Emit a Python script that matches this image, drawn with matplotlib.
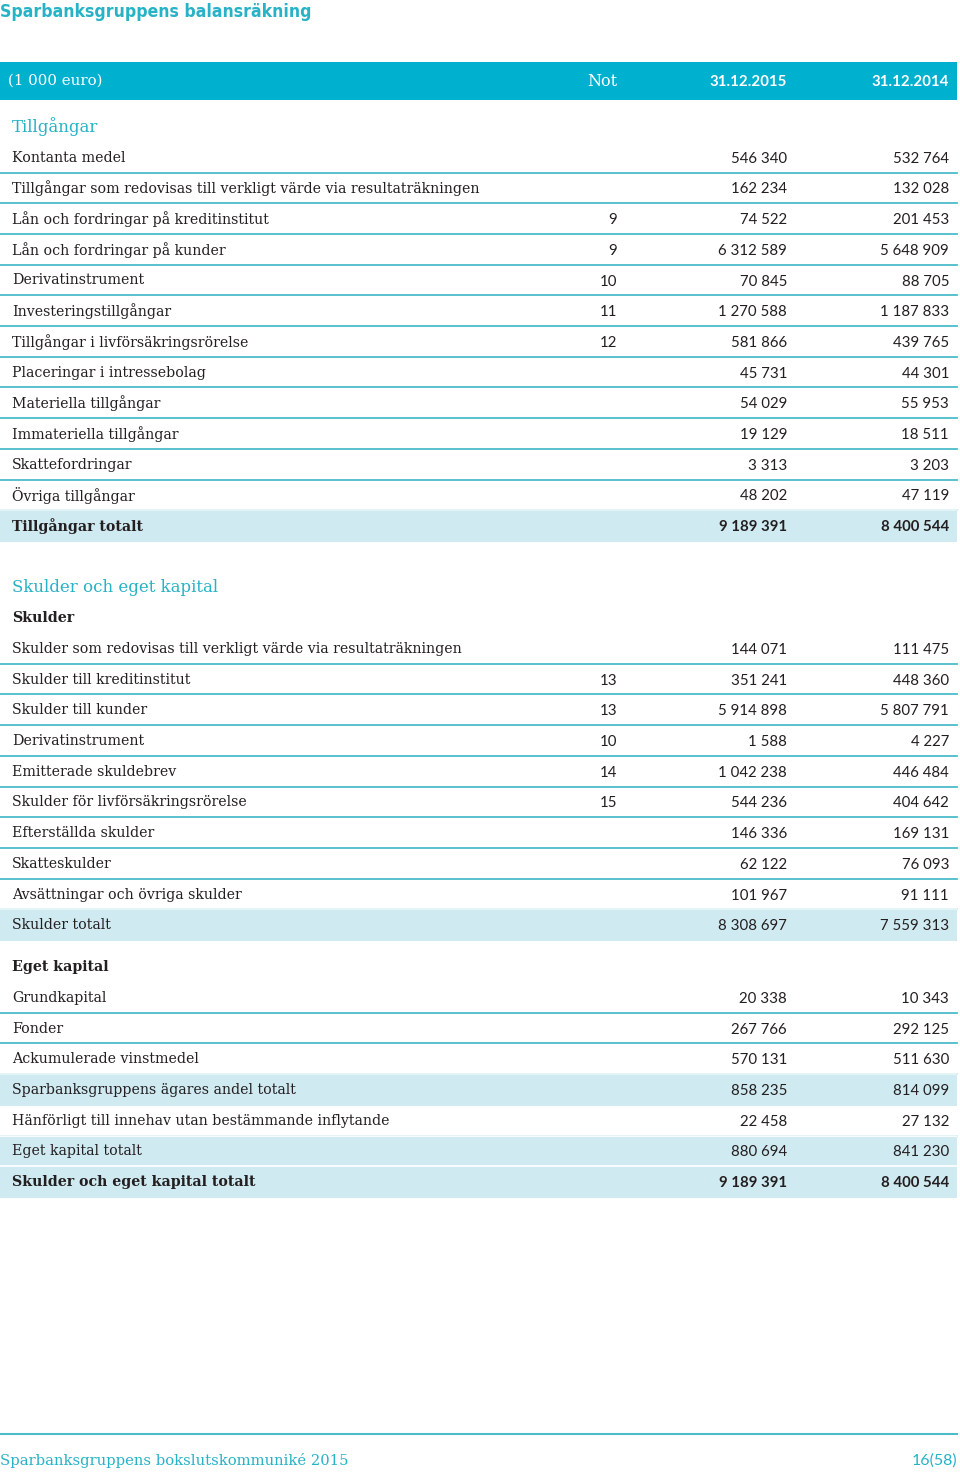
import matplotlib
matplotlib.use('Agg')
import matplotlib.pyplot as plt
from matplotlib.patches import Rectangle
from matplotlib import font_manager

# Data
asset_labels = ['Kontanta medel',
                'Tillgångar som redovisas till verkligt värde via resultaträkningen',
                'Lån och fordringar på kreditinstitut',
                'Lån och fordringar på kunder',
                'Derivatinstrument',
                'Investeringstillgångar',
                'Tillgångar i livförsäkringsrörelse',
                'Placeringar i intressebolag',
                'Materiella tillgångar',
                'Immateriella tillgångar',
                'Skattefordringar',
                'Övriga tillgångar']
asset_notes = ['', '', '9', '9', '10', '11', '12', '', '', '', '', '']
asset_2015 = ['546 340', '162 234', '74 522', '6 312 589', '70 845', '1 270 588',
              '581 866', '45 731', '54 029', '19 129', '3 313', '48 202']
asset_2014 = ['532 764', '132 028', '201 453', '5 648 909', '88 705', '1 187 833',
              '439 765', '44 301', '55 953', '18 511', '3 203', '47 119']
asset_total = ('Tillgångar totalt', '9 189 391', '8 400 544')

liab_labels = ['Skulder som redovisas till verkligt värde via resultaträkningen',
               'Skulder till kreditinstitut',
               'Skulder till kunder',
               'Derivatinstrument',
               'Emitterade skuldebrev',
               'Skulder för livförsäkringsrörelse',
               'Efterställda skulder',
               'Skatteskulder',
               'Avsättningar och övriga skulder']
liab_notes = ['', '13', '13', '10', '14', '15', '', '', '']
liab_2015 = ['144 071', '351 241', '5 914 898', '1 588', '1 042 238', '544 236',
             '146 336', '62 122', '101 967']
liab_2014 = ['111 475', '448 360', '5 807 791', '4 227', '446 484', '404 642',
             '169 131', '76 093', '91 111']
liab_total = ('Skulder totalt', '8 308 697', '7 559 313')

equity_labels = ['Grundkapital', 'Fonder', 'Ackumulerade vinstmedel']
equity_2015 = ['20 338', '267 766', '570 131']
equity_2014 = ['10 343', '292 125', '511 630']

equity_rest = [('Sparbanksgruppens ägares andel totalt', '858 235', '814 099', 'total'),
               ('Hänförligt till innehav utan bestämmande inflytande', '22 458', '27 132', 'row'),
               ('Eget kapital totalt', '880 694', '841 230', 'total'),
               ('Skulder och eget kapital totalt', '9 189 391', '8 400 544', 'boldtotal')]

# Colours / fonts
TEAL = '#00b0cf'
TEAL_TXT = '#27b2c6'
LINE = '#4cbccb'
BAND = '#d0eaf1'
INK = '#231f20'
LAB_FONT = ['DejaVu Serif']
NUM_FONT = ['Lato', 'DejaVu Sans']
LAB_SIZE = 10.2
NUM_SIZE = 10.8

STEP = 30.7
X_LAB, X_NOT, X_15, X_14 = 12, 617, 787, 949
RIGHT = 957

# look for a condensed bold face for the title
title_prop = None
for f in font_manager.fontManager.ttflist:
    nm = f.name.lower()
    cond = ('condensed' in str(f.stretch) or 'narrow' in nm or 'condensed' in nm
            or 'condensed' in f.fname.lower())
    if cond and (f.weight in ('bold', 700, 600, 'semibold', 'demibold')
                 or 'bold' in f.fname.lower()):
        title_prop = font_manager.FontProperties(fname=f.fname, size=12.6)
        break
if title_prop is None:
    title_prop = font_manager.FontProperties(family='DejaVu Sans', weight='bold', size=11)

# build the row list: (kind, label, note, v2015, v2014, gap)
rows = [('section', 'Tillgångar', '', '', '', 0)]
for lab, n, a, b in zip(asset_labels, asset_notes, asset_2015, asset_2014):
    rows.append(('row', lab, n, a, b, 1))
rows.append(('boldtotal', asset_total[0], '', asset_total[1], asset_total[2], 1))
rows.append(('section', 'Skulder och eget kapital', '', '', '', 2))
rows.append(('sub', 'Skulder', '', '', '', 1))
for lab, n, a, b in zip(liab_labels, liab_notes, liab_2015, liab_2014):
    rows.append(('row', lab, n, a, b, 1))
rows.append(('total', liab_total[0], '', liab_total[1], liab_total[2], 1))
rows.append(('sub', 'Eget kapital', '', '', '', 1.37))
for lab, a, b in zip(equity_labels, equity_2015, equity_2014):
    rows.append(('row', lab, '', a, b, 1))
for lab, a, b, kind in equity_rest:
    rows.append((kind, lab, '', a, b, 1))

fig = plt.figure(figsize=(9.6, 14.74), dpi=100)
ax = fig.add_axes([0, 0, 1, 1])
ax.set_xlim(0, 960)
ax.set_ylim(1474, 0)
ax.axis('off')

# title
ax.text(0, 12, 'Sparbanksgruppens balansräkning', fontproperties=title_prop,
        color=TEAL_TXT, ha='left', va='center')

# header bar
ax.add_patch(Rectangle((0, 62), RIGHT, 38, color=TEAL, lw=0))
hy = 81
ax.text(8, hy, '(1 000 euro)', fontsize=10.8, color='white', family=LAB_FONT,
        ha='left', va='center')
ax.text(X_NOT, hy, 'Not', fontsize=11.5, color='white', family=LAB_FONT,
        ha='right', va='center')
for x, t in [(X_15, '31.12.2015'), (X_14, '31.12.2014')]:
    ax.text(x, hy + 1, t, fontsize=NUM_SIZE, color='white', family=NUM_FONT,
            fontweight='bold', ha='right', va='center')

y = 127
for kind, lab, note, a, b, gap in rows:
    y += gap * STEP
    if kind in ('total', 'boldtotal'):
        ax.add_patch(Rectangle((0, y - 15.5), RIGHT, 31, color=BAND, lw=0, zorder=1))
        ax.plot([0, RIGHT], [y - 15.8, y - 15.8], color='white', lw=1.2, zorder=1.5)
    if kind == 'row':
        ax.plot([0, RIGHT], [y + 14.8, y + 14.8], color=LINE, lw=1.3, zorder=1)
    if kind == 'section':
        ax.text(X_LAB, y, lab, fontsize=12, color=TEAL_TXT, family=LAB_FONT,
                ha='left', va='center', zorder=3)
        continue
    bold = kind in ('sub', 'boldtotal')
    ax.text(X_LAB, y, lab, fontsize=LAB_SIZE, color=INK, family=LAB_FONT,
            fontweight='bold' if bold else 'normal', ha='left', va='center', zorder=3)
    if note:
        ax.text(X_NOT, y + 1, note, fontsize=NUM_SIZE, color=INK, family=NUM_FONT,
                ha='right', va='center', zorder=3)
    for x, v in [(X_15, a), (X_14, b)]:
        if v:
            ax.text(x, y + 1, v, fontsize=NUM_SIZE, color=INK, family=NUM_FONT,
                    fontweight='bold' if kind == 'boldtotal' else 'normal',
                    ha='right', va='center', zorder=3)

# footer
ax.plot([0, RIGHT], [1434, 1434], color=LINE, lw=1.5)
ax.text(0, 1461, 'Sparbanksgruppens bokslutskommuniké 2015', fontsize=10.6,
        color=TEAL_TXT, family=LAB_FONT, ha='left', va='center')
ax.text(RIGHT, 1461, '16(58)', fontsize=11.5, color=TEAL_TXT, family=NUM_FONT,
        ha='right', va='center')

fig.savefig('out.png', dpi=100)
